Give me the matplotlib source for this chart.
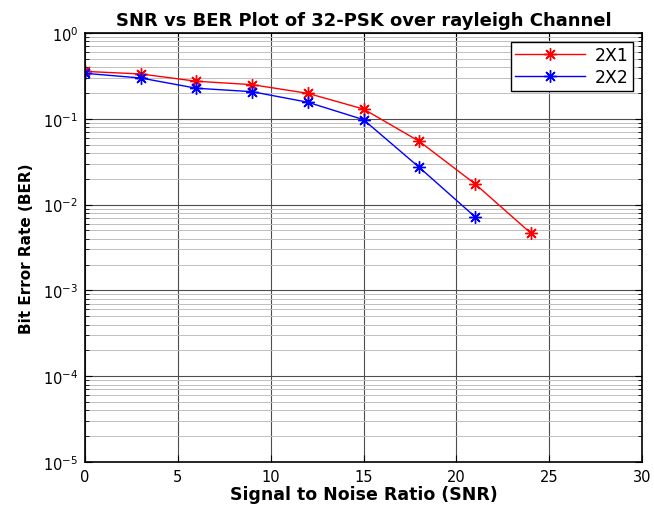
import matplotlib.pyplot as plt
from matplotlib.ticker import LogLocator, NullFormatter

plt.rcParams['font.family'] = ['DejaVu Sans']
plt.rcParams['mathtext.fontset'] = 'dejavusans'

# valores
snr_2x1 = [0, 3, 6, 9, 12, 15, 18, 21, 24]
ber_2x1 = [0.357, 0.333, 0.274, 0.25, 0.198, 0.130, 0.0547, 0.0175, 0.00467]
snr_2x2 = [0, 3, 6, 9, 12, 15, 18, 21]
ber_2x2 = [0.339, 0.299, 0.227, 0.207, 0.156, 0.0977, 0.0272, 0.00723]
xticks = [0, 5, 10, 15, 20, 25, 30]

fig = plt.figure(figsize=(6.54, 5.06), dpi=100)
ax = fig.add_axes([85/654, 1 - 463/506, 557/654, 429/506])

asterisco = (8, 2, 0)
ax.semilogy(snr_2x1, ber_2x1, color='red', lw=1, marker=asterisco, ms=9,
            mew=1, label='2X1')
ax.semilogy(snr_2x2, ber_2x2, color='blue', lw=1, marker=asterisco, ms=9,
            mew=1, label='2X2')

ax.set_xlim(0, 30)
ax.set_ylim(1e-5, 1)
ax.set_xticks(xticks)
ax.yaxis.set_minor_locator(LogLocator(base=10, subs=range(2, 10), numticks=20))
ax.yaxis.set_minor_formatter(NullFormatter())

ax.grid(True, which='major', color='0.3', lw=0.8)
ax.grid(True, which='minor', axis='y', color='0.75', lw=0.7)
ax.tick_params(which='both', direction='in', top=True, right=True, labelsize=10.5)
ax.tick_params(which='major', length=5, pad=5)
ax.tick_params(which='minor', length=3)
for s in ax.spines.values():
    s.set_linewidth(1.2)

ax.set_title('SNR vs BER Plot of 32-PSK over rayleigh Channel',
             fontsize=13, fontweight='bold', pad=6)
ax.set_xlabel('Signal to Noise Ratio (SNR)', fontsize=12.5, fontweight='bold', labelpad=1)
ax.set_ylabel('Bit Error Rate (BER)', fontsize=11, fontweight='bold', labelpad=6)

leg = ax.legend(loc='upper right', fontsize=12.5, fancybox=False, framealpha=1,
                edgecolor='black', borderaxespad=0.5, handlelength=4.0,
                handletextpad=0.6, borderpad=0.25, labelspacing=0.25)
leg.get_frame().set_linewidth(1)

fig.savefig('out.png', dpi=100)
